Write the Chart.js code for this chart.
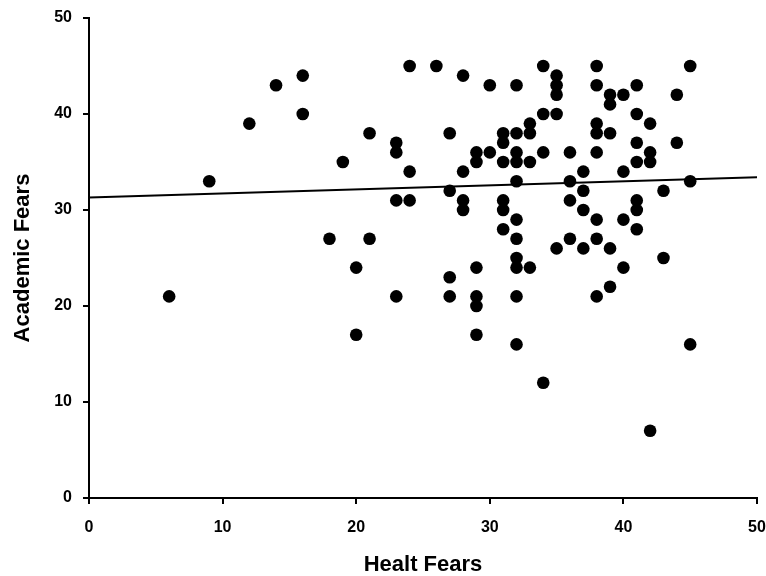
<!DOCTYPE html>
<html>
<head>
<meta charset="utf-8">
<script src="https://cdn.jsdelivr.net/npm/chart.js@4"></script>
<style>
  html, body { margin: 0; padding: 0; background: #fff; }
  #wrap { width: 766px; height: 576px; }
</style>
</head>
<body>
<div id="wrap"><canvas id="fearsChart" width="766" height="576"></canvas></div>
<script>
// Health fears (x) vs academic fears (y), one entry per respondent
const healthFears = [
  24, 16, 14, 16, 12, 21, 23, 23, 19, 24, 9, 23, 24, 18, 21, 20, 6, 23, 20,
  26, 28, 30, 32, 34, 35, 35, 35, 38, 38, 39, 39, 40, 41, 44, 45,
  34, 35, 33, 33, 41, 42, 27, 31, 31, 32, 38, 38, 39, 41, 44,
  29, 29, 30, 32, 32, 31, 33, 34, 36, 38, 42, 42, 41,
  28, 37, 40, 32, 36, 45, 27, 37, 43,
  28, 28, 31, 31, 36, 41, 41, 37, 32, 38, 40, 31, 41,
  32, 36, 38, 35, 37, 39, 32, 43,
  32, 33, 29, 40, 27, 27, 29, 29, 32, 38, 39, 29, 32, 45, 34, 42
];
const academicFears = [
  45, 44, 43, 40, 39, 38, 37, 36, 35, 34, 33, 31, 31, 27, 27, 24, 21, 21, 17,
  45, 44, 43, 43, 45, 44, 43, 42, 45, 43, 42, 41, 42, 43, 42, 45,
  40, 40, 39, 38, 40, 39, 38, 38, 37, 38, 39, 38, 38, 37, 37,
  36, 35, 36, 36, 35, 35, 35, 36, 36, 36, 36, 35, 35,
  34, 34, 34, 33, 33, 33, 32, 32, 32,
  31, 30, 31, 30, 31, 31, 30, 30, 29, 29, 29, 28, 28,
  27, 27, 27, 26, 26, 26, 25, 25,
  24, 24, 24, 24, 23, 21, 21, 20, 21, 21, 22, 17, 16, 16, 12, 7
];
// fitted line, read at both ends of the x axis
const trendX = [0, 50];
const trendY = [31.3, 33.4];
const tickValues = [0, 10, 20, 30, 40, 50];

const points = healthFears.map((x, i) => ({ x: x, y: academicFears[i] }));
const trend = trendX.map((x, i) => ({ x: x, y: trendY[i] }));

const tickFont = { family: 'Liberation Sans, Arial, sans-serif', size: 16, weight: 'bold' };
const titleFont = { family: 'Liberation Sans, Arial, sans-serif', size: 22, weight: 'bold', lineHeight: 1 };

function axis(title, horizontal) {
  return {
    type: 'linear',
    min: 0,
    max: 50,
    afterBuildTicks: s => { s.ticks = tickValues.map(v => ({ value: v })); },
    afterFit: s => {
      if (horizontal) s.height = 78; else s.width = 89;
      s.paddingLeft = 0; s.paddingRight = 0; s.paddingTop = 0; s.paddingBottom = 0;
    },
    border: { display: true, color: '#000', width: 2 },
    grid: { display: true, drawOnChartArea: false, drawTicks: true, tickLength: 6, color: '#000', lineWidth: 2 },
    ticks: { color: '#000', font: tickFont, padding: horizontal ? 14 : 11, maxRotation: 0, autoSkip: false },
    title: { display: true, text: title, color: '#000', font: titleFont, padding: horizontal ? { top: 0, bottom: 0 } : { top: 12, bottom: 0 } }
  };
}

const ctx = document.getElementById('fearsChart').getContext('2d');
new Chart(ctx, {
  type: 'scatter',
  data: {
    datasets: [
      {
        label: 'Respondents',
        data: points,
        backgroundColor: '#000',
        borderColor: '#000',
        pointRadius: 6.3,
        pointHoverRadius: 6.3,
        borderWidth: 0
      },
      {
        type: 'line',
        label: 'Trend',
        data: trend,
        borderColor: '#000',
        borderWidth: 2,
        pointRadius: 0,
        fill: false
      }
    ]
  },
  options: {
    responsive: false,
    animation: false,
    layout: { padding: { left: 0, right: 9, top: 18, bottom: 0 } },
    plugins: {
      legend: { display: false },
      tooltip: { enabled: false }
    },
    scales: {
      x: axis('Healt Fears', true),
      y: axis('Academic Fears', false)
    }
  }
});
</script>
</body>
</html>
